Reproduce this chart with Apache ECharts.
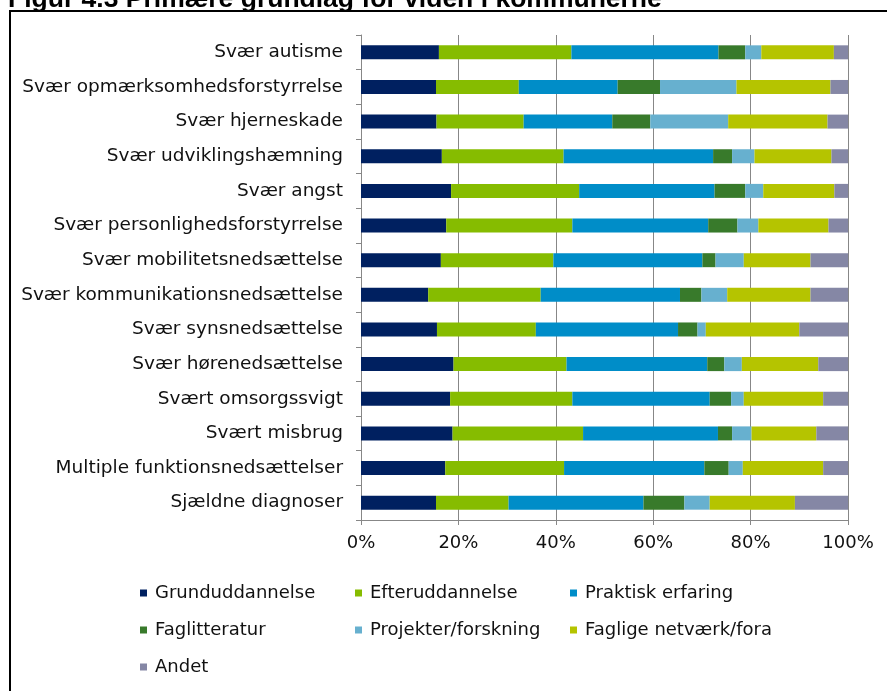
<!DOCTYPE html>
<html>
<head>
<meta charset="utf-8">
<script src="https://cdn.jsdelivr.net/npm/echarts@6/dist/echarts.min.js"></script>
<style>
  html, body { margin: 0; padding: 0; background: #fff; }
  #main { width: 887px; height: 691px; }
</style>
</head>
<body>
<div id="main"></div>
<script>
// kategorier (oppefra og ned)
var categories = ['Svær autisme', 'Svær opmærksomhedsforstyrrelse', 'Svær hjerneskade',
  'Svær udviklingshæmning', 'Svær angst', 'Svær personlighedsforstyrrelse',
  'Svær mobilitetsnedsættelse', 'Svær kommunikationsnedsættelse', 'Svær synsnedsættelse',
  'Svær hørenedsættelse', 'Svært omsorgssvigt', 'Svært misbrug',
  'Multiple funktionsnedsættelser', 'Sjældne diagnoser'];

// andele i procent
var grunduddannelse = [16.0, 15.4, 15.5, 16.6, 18.5, 17.5, 16.4, 13.8, 15.6, 19.0, 18.3, 18.8, 17.3, 15.4];
var efteruddannelse = [27.2, 17.0, 17.9, 25.0, 26.3, 25.9, 23.1, 23.1, 20.3, 23.2, 25.1, 26.8, 24.4, 14.9];
var praktisk = [30.2, 20.3, 18.2, 30.7, 27.8, 27.9, 30.6, 28.6, 29.2, 28.9, 28.2, 27.7, 28.8, 27.7];
var faglitteratur = [5.5, 8.7, 7.8, 3.9, 6.3, 6.0, 2.7, 4.4, 4.0, 3.5, 4.4, 2.9, 5.0, 8.4];
var projekter = [3.3, 15.7, 16.0, 4.6, 3.7, 4.3, 5.8, 5.3, 1.7, 3.6, 2.6, 4.0, 2.9, 5.2];
var netvaerk = [14.9, 19.3, 20.4, 15.8, 14.6, 14.4, 13.7, 17.1, 19.2, 15.7, 16.3, 13.3, 16.5, 17.5];
var andet = [2.9, 3.6, 4.2, 3.4, 2.8, 4.0, 7.7, 7.7, 10.0, 6.1, 5.1, 6.5, 5.1, 10.9];

var seriesNames = ['Grunduddannelse', 'Efteruddannelse', 'Praktisk erfaring', 'Faglitteratur',
  'Projekter/forskning', 'Faglige netværk/fora', 'Andet'];
var seriesData = [grunduddannelse, efteruddannelse, praktisk, faglitteratur, projekter, netvaerk, andet];
var colors = ['#002060', '#86bc00', '#008dc8', '#387a2b', '#67b0cf', '#b5c400', '#8587a5'];

var xTicks = [0, 20, 40, 60, 80, 100];

var font = 'DejaVu Sans';
var chart = echarts.init(document.getElementById('main'));

var series = seriesNames.map(function (name, i) {
  return {
    name: name,
    type: 'bar',
    stack: 'total',
    barWidth: 14,
    data: seriesData[i],
    itemStyle: { color: colors[i] }
  };
});

var legendText = { fontFamily: font, fontSize: 18, color: '#111', lineHeight: 20, padding: [0, 0, 0, 3] };
function legendCol(left, names) {
  return {
    orient: 'vertical', left: left, top: 578,
    itemWidth: 7, itemHeight: 7, itemGap: 17, icon: 'rect',
    textStyle: legendText, selectedMode: false,
    data: names
  };
}

var option = {
  color: colors,
  animation: false,
  graphic: [
    {
      type: 'text', left: 8, top: -14,
      style: { text: 'Figur 4.3 Primære grundlag for viden i kommunerne', font: 'bold 26.5px "Liberation Sans"', fill: '#000' }
    },
    {
      type: 'rect', shape: { x: 10, y: 11, width: 900, height: 720 },
      style: { fill: 'none', stroke: '#000', lineWidth: 2 }
    }
  ],
  legend: [
    legendCol(135, ['Grunduddannelse', 'Faglitteratur', 'Andet']),
    legendCol(350, ['Efteruddannelse', 'Projekter/forskning']),
    legendCol(565, ['Praktisk erfaring', 'Faglige netværk/fora'])
  ],
  grid: { left: 361, right: 39, top: 35, bottom: 171, containLabel: false },
  xAxis: {
    type: 'value', min: xTicks[0], max: xTicks[xTicks.length - 1], interval: 20,
    axisLine: { show: true, lineStyle: { color: '#878787' } },
    axisTick: { show: true, length: 5, lineStyle: { color: '#878787' } },
    splitLine: { show: true, lineStyle: { color: '#878787' } },
    axisLabel: { formatter: '{value}%', fontFamily: font, fontSize: 18, color: '#111', margin: 14 }
  },
  yAxis: {
    type: 'category', data: categories, inverse: true,
    axisLine: { show: true, lineStyle: { color: '#878787' } },
    axisTick: { show: true, length: 5, lineStyle: { color: '#878787' } },
    axisLabel: { fontFamily: font, fontSize: 18.5, color: '#111', margin: 18 }
  },
  series: series
};

chart.setOption(option);
</script>
</body>
</html>
